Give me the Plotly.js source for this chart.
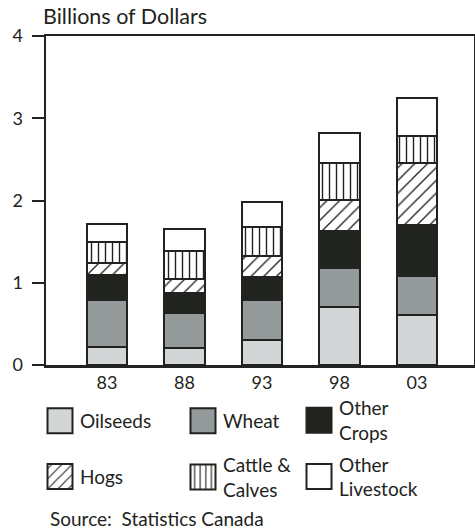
<!DOCTYPE html>
<html><head><meta charset="utf-8">
<script src="https://cdn.plot.ly/plotly-3.0.1.min.js"></script>
<style>html,body{margin:0;padding:0;background:#fff}#chart{width:475px;height:532px}</style>
</head><body><div id="chart"></div>
<script>
var years = ['83', '88', '93', '98', '03'];
var oilseeds = [0.22, 0.21, 0.31, 0.70, 0.61];
var wheat = [0.57, 0.42, 0.48, 0.48, 0.47];
var otherCrops = [0.30, 0.25, 0.28, 0.45, 0.62];
var hogs = [0.15, 0.17, 0.26, 0.38, 0.76];
var cattle = [0.26, 0.34, 0.35, 0.45, 0.33];
var otherLivestock = [0.22, 0.26, 0.30, 0.36, 0.46];
var yTicks = [0, 1, 2, 3, 4];

var ink = '#222320';
var FONT = 'Lato, "Open Sans", sans-serif';
function bar(name, vals, color, pattern, legend, group) {
  var m = {color: color, line: {color: ink, width: 2}};
  if (pattern) m.pattern = pattern;
  return {type: 'bar', name: name, x: years, y: vals, width: 0.52, marker: m,
          legend: legend, legendgroup: group, hoverinfo: 'skip'};
}
var traces = [
  bar('Oilseeds', oilseeds, '#d3d6d6', null, 'legend', 'a'),
  bar('Wheat', wheat, '#959b9b', null, 'legend2', 'b'),
  bar('Other<br>Crops', otherCrops, '#21231f', null, 'legend3', 'c'),
  bar('Hogs', hogs, '#ffffff', {shape: '/', fgcolor: ink, bgcolor: '#ffffff', size: 9, solidity: 0.15}, 'legend', 'd'),
  bar('Cattle &<br>Calves', cattle, '#ffffff', {shape: '|', fgcolor: ink, bgcolor: '#ffffff', size: 7, solidity: 0.2}, 'legend2', 'e'),
  bar('Other<br>Livestock', otherLivestock, '#ffffff', null, 'legend3', 'f')
];
function leg(xpx, ytop, gap) {
  return {x: (xpx - 46) / 428, xanchor: 'left', y: (365 - ytop) / 329, yanchor: 'top',
          orientation: 'v', traceorder: 'grouped', tracegroupgap: gap,
          font: {family: FONT, size: 19, color: ink}, bgcolor: 'rgba(0,0,0,0)', itemclick: false};
}
var layout = {
  width: 475, height: 532,
  margin: {l: 46, r: 1, t: 36, b: 167},
  paper_bgcolor: '#fff', plot_bgcolor: '#fff',
  barmode: 'stack',
  font: {family: FONT, size: 17, color: ink},
  title: {text: 'Billions of Dollars', x: 43 / 475, xanchor: 'left', xref: 'container',
          y: 1 - 16 / 532, yanchor: 'middle', font: {family: FONT, size: 21.5, color: ink}},
  xaxis: {type: 'category', range: [-0.787, 4.735], showgrid: false, zeroline: false,
          showline: true, mirror: true, linecolor: ink, linewidth: 2.5, ticks: '',
          tickfont: {family: FONT, size: 18, color: ink}, fixedrange: true},
  yaxis: {range: [0, 4], tickvals: yTicks, ticktext: yTicks.map(String), showgrid: false, zeroline: false,
          showline: true, mirror: true, linecolor: ink, linewidth: 2.5,
          ticks: 'outside', ticklen: 12, tickwidth: 2, tickcolor: ink, ticklabelstandoff: 5,
          tickfont: {family: FONT, size: 18, color: ink}, fixedrange: true},
  showlegend: true,
  legend: leg(40, 402, 28),
  legend2: leg(183, 402, 16),
  legend3: leg(299, 389, 4),
  annotations: [{text: 'Source:  Statistics Canada', xref: 'paper', yref: 'paper',
    x: (48 - 46) / 428, xanchor: 'left', y: (365 - 518) / 329, yanchor: 'middle',
    showarrow: false, font: {family: FONT, size: 19, color: ink}}]
};
Plotly.newPlot('chart', traces, layout, {staticPlot: true, displayModeBar: false}).then(function () {
  document.querySelectorAll('.legendpoints path').forEach(function (p) {
    p.setAttribute('d', 'M12.5,12.5H-12.5V-12.5H12.5Z');
    p.style.strokeWidth = '2px';
  });
});
</script></body></html>
